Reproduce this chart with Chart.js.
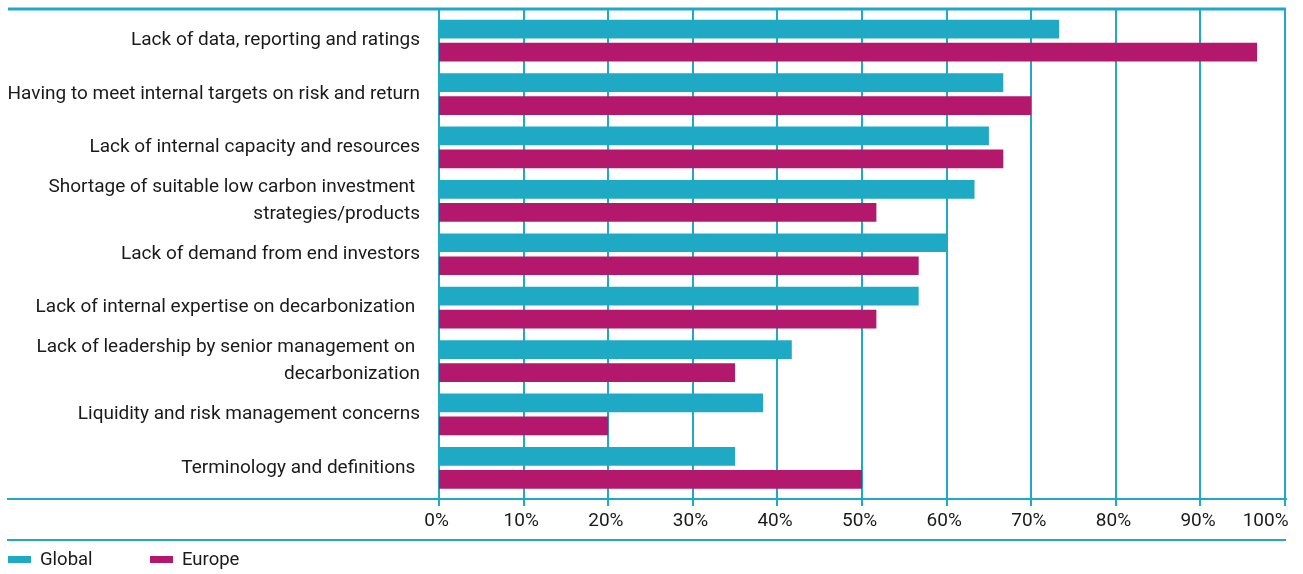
<!DOCTYPE html>
<html>
<head>
<meta charset="utf-8">
<title>Barriers to decarbonization</title>
<script src="https://cdn.jsdelivr.net/npm/chart.js@4.4.1/dist/chart.umd.min.js"></script>
<style>
    html, body {
        margin: 0;
        padding: 0;
        background: #fff;
    }

    #wrap {
        position: relative;
        width: 1303px;
        height: 574px;
    }

    #legend {
        position: absolute;
        left: 8px;
        top: 547px;
        display: flex;
        font: 18.5px Roboto, sans-serif;
        color: #1a1a1a;
    }

    #legend .item {
        display: flex;
        align-items: center;
        width: 142px;
        height: 24px;
    }

    #legend .swatch {
        display: inline-block;
        width: 23px;
        height: 7px;
        margin-right: 9px;
    }
</style>
</head>
<body>
<div id="wrap">
    <canvas id="chart" width="1303" height="574"></canvas>
    <div id="legend"></div>
</div>
<script>
'use strict';

// categories, top to bottom (trailing spaces are as in the source)
const categories = [
    'Lack of data, reporting and ratings',
    'Having to meet internal targets on risk and return',
    'Lack of internal capacity and resources',
    ['Shortage of suitable low carbon investment ', 'strategies/products'],
    'Lack of demand from end investors',
    'Lack of internal expertise on decarbonization ',
    ['Lack of leadership by senior management on ', 'decarbonization'],
    'Liquidity and risk management concerns',
    'Terminology and definitions '
];

const seriesNames = ['Global', 'Europe'];

// share of respondents, %
const globalValues = [73.3, 66.7, 65, 63.3, 60, 56.7, 41.7, 38.3, 35];
const europeValues = [96.7, 70, 66.7, 51.7, 56.7, 51.7, 35, 20, 50];

const tickValues = [0, 10, 20, 30, 40, 50, 60, 70, 80, 90, 100];

const TEAL = '#1eaac4';
const MAGENTA = '#b4186c';
const TEXT = '#1a1a1a';
const FONT = 'Roboto, sans-serif';

/**
 * Draws the teal frame: top rule, vertical grid with ticks,
 * baseline and the rule above the legend.
 */
const framePlugin = {

    id: 'frame',

    beforeDatasetsDraw(chart) {

        const { ctx, chartArea: area, scales: { x } } = chart;

        const top = area.top - 5;
        const base = area.bottom + 4.5;

        ctx.save();
        ctx.strokeStyle = TEAL;

        ctx.lineWidth = 2;
        tickValues.forEach(value => {
            const px = Math.round(x.getPixelForValue(value));
            ctx.beginPath();
            ctx.moveTo(px, top);
            ctx.lineTo(px, base + 7);
            ctx.stroke();
        });

        ctx.lineWidth = 3;
        ctx.beginPath();
        ctx.moveTo(8, top);
        ctx.lineTo(area.right + 1, top);
        ctx.stroke();

        ctx.lineWidth = 2;
        ctx.beginPath();
        ctx.moveTo(7, base);
        ctx.lineTo(area.right + 2, base);
        ctx.stroke();

        ctx.beginPath();
        ctx.moveTo(7, base + 41);
        ctx.lineTo(area.right + 1, base + 41);
        ctx.stroke();

        ctx.restore();

    }

};

Chart.defaults.font.family = FONT;
Chart.defaults.color = TEXT;

const chart = new Chart(document.getElementById('chart'), {

    type: 'bar',

    data: {

        labels: categories,

        datasets: [

            {
                label: seriesNames[0],
                data: globalValues,
                backgroundColor: TEAL,
                borderWidth: 0
            },

            {
                label: seriesNames[1],
                data: europeValues,
                backgroundColor: MAGENTA,
                borderWidth: 0
            }

        ]

    },

    options: {

        indexAxis: 'y',

        responsive: false,

        animation: false,

        devicePixelRatio: 1,

        categoryPercentage: 0.862,

        barPercentage: 0.813,

        layout: {
            padding: { top: 14, right: 18, bottom: 0, left: 0 }
        },

        plugins: {

            legend: {
                display: false
            },

            tooltip: {
                enabled: false
            }

        },

        scales: {

            x: {

                min: 0,
                max: 100,

                afterBuildTicks(scale) {
                    scale.ticks = tickValues.map(value => ({ value }));
                },

                afterFit(scale) {
                    scale.height = 79.5;
                    scale.paddingLeft = 0;
                    scale.paddingRight = 0;
                },

                grid: {
                    display: false,
                    drawTicks: false
                },

                border: {
                    display: false
                },

                ticks: {
                    padding: 15.5,
                    maxRotation: 0,
                    autoSkip: false,
                    color: TEXT,
                    font: { size: 19 },
                    callback(value) {
                        // last label is pushed left so it stays inside the frame
                        return value === 100
                            ? value + '%\u2003\u2003'
                            : value + '% ';
                    }
                }

            },

            y: {

                afterFit(scale) {
                    scale.width = 439;
                    scale.paddingTop = 0;
                    scale.paddingBottom = 0;
                },

                grid: {
                    display: false,
                    drawTicks: false
                },

                border: {
                    display: false
                },

                ticks: {
                    padding: 19,
                    autoSkip: false,
                    color: TEXT,
                    font: { size: 19, lineHeight: 1.4 }
                }

            }

        }

    },

    plugins: [framePlugin]

});

// legend
const legend = document.getElementById('legend');

chart.data.datasets.forEach(dataset => {

    const item = document.createElement('div');
    item.className = 'item';

    const swatch = document.createElement('span');
    swatch.className = 'swatch';
    swatch.style.background = dataset.backgroundColor;

    const label = document.createElement('span');
    label.textContent = dataset.label;

    item.appendChild(swatch);
    item.appendChild(label);
    legend.appendChild(item);

});
</script>
</body>
</html>
